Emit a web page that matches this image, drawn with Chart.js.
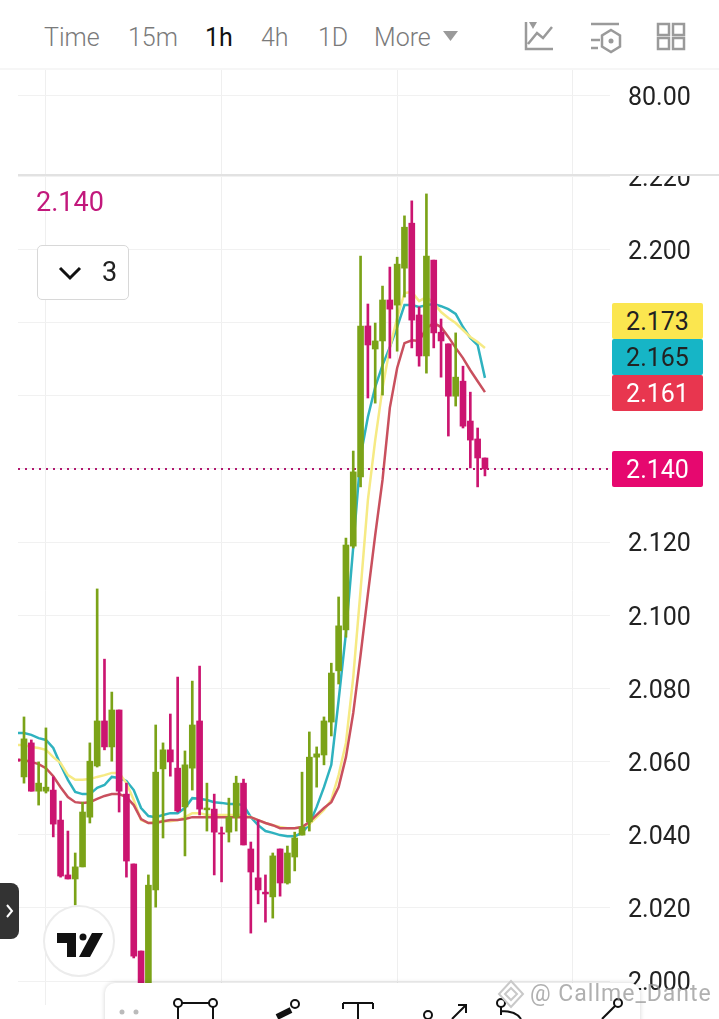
<!DOCTYPE html>
<html>
<head>
<meta charset="utf-8">
<script src="https://cdn.jsdelivr.net/npm/chart.js@4"></script>
<style>
html, body { margin: 0; padding: 0; background: #fff; }
body { width: 719px; height: 1019px; overflow: hidden; position: relative; font-family: Roboto, sans-serif; }
canvas { position: absolute; left: 0; }
#upperPane { top: 70px; }
#mainPane { top: 176px; }
.abs { position: absolute; }
.tab { position: absolute; top: 22px; font-size: 25px; line-height: 32px; color: #7a7a7a; font-weight: 300; }
.tab.on { color: #111; font-weight: 400; }
.badge { position: absolute; left: 612px; width: 91px; height: 36px; line-height: 37px; text-align: center; font-size: 25px; border-radius: 2px; }
</style>
</head>
<body>
<div class="abs" style="left:0;top:68px;width:719px;height:2px;background:#f6f6f6"></div>
<div class="tab" style="left:44px">Time</div>
<div class="tab" style="left:128px">15m</div>
<div class="tab on" style="left:205px">1h</div>
<div class="tab" style="left:261px">4h</div>
<div class="tab" style="left:318px">1D</div>
<div class="tab" style="left:374px">More</div>
<svg class="abs" style="left:0;top:0" width="719" height="68" fill="none" stroke="#9a9a9a" stroke-width="2.5">
  <path d="M443 31h15l-7.5 10z" fill="#9a9a9a" stroke="none"/>
  <path d="M526 22v27h27M528 44l9-11 6 5 9-11"/>
  <path d="M529 22h8l-4 7z" fill="#9a9a9a" stroke="none"/>
  <path d="M591 24h28M591 40h9M591 48h7"/>
  <path d="M611 30l9 5.5v11l-9 5.5-9-5.5v-11z"/>
  <circle cx="611" cy="41" r="2.5" fill="#9a9a9a" stroke="none"/>
  <rect x="658" y="24" width="11" height="11"/><rect x="673" y="24" width="11" height="11"/>
  <rect x="658" y="38" width="11" height="11"/><rect x="673" y="38" width="11" height="11"/>
</svg>

<canvas id="upperPane" width="719" height="106"></canvas>
<canvas id="mainPane" width="719" height="829"></canvas>
<div class="abs" style="left:18px;top:174px;width:701px;height:2px;background:#e2e2e2"></div>

<div class="abs" style="left:36px;top:186px;font-size:27px;line-height:32px;color:#c2187c">2.140</div>
<div class="abs" style="left:37px;top:245px;width:90px;height:53px;border:1px solid #d8d8d8;border-radius:5px;background:#fff"></div>
<svg class="abs" style="left:55px;top:262px" width="32" height="22" fill="none" stroke="#111" stroke-width="3"><path d="M5 6l10 10 10-10"/></svg>
<div class="abs" style="left:102px;top:256px;font-size:27px;line-height:32px;color:#222">3</div>

<div class="badge" style="top:303px;background:#fbe64f;color:#222">2.173</div>
<div class="badge" style="top:339px;background:#16b5c6;color:#222">2.165</div>
<div class="badge" style="top:375px;background:#e8364f;color:#fff">2.161</div>
<div class="badge" style="top:451px;background:#e6086f;color:#fff">2.140</div>

<div class="abs" style="left:0;top:883px;width:19px;height:56px;background:#333;border-radius:0 8px 8px 0"></div>
<svg class="abs" style="left:0;top:883px" width="19" height="56" fill="none" stroke="#fff" stroke-width="2"><path d="M7 22l5 6-5 6"/></svg>
<svg class="abs" style="left:40px;top:902px" width="80" height="80">
  <circle cx="39" cy="39" r="35" fill="#fff" stroke="#ececec" stroke-width="2"/>
  <path d="M17 31h19v24h-9v-14h-10zM52 31h11l-13 24h-11z" fill="#111"/>
  <circle cx="43" cy="35" r="3.5" fill="#111"/>
</svg>

<div class="abs" style="left:105px;top:983px;width:535px;height:50px;background:#fff;border-radius:10px;box-shadow:0 0 5px rgba(0,0,0,.18)"></div>
<svg class="abs" style="left:105px;top:983px" width="535" height="36" fill="none" stroke="#111" stroke-width="2">
  <circle cx="17" cy="29" r="1.5" fill="#bbb" stroke="#bbb"/><circle cx="31" cy="29" r="1.5" fill="#bbb" stroke="#bbb"/>
  <path d="M77 20h27M73 24v12M108 24v12"/>
  <circle cx="73" cy="20" r="4"/><circle cx="108" cy="20" r="4"/>
  <path d="M172 34l14-7" stroke-width="6"/><circle cx="190" cy="21" r="4"/>
  <path d="M238 20h30M253 20v16M238 20v6M268 20v6"/>
  <circle cx="323" cy="32" r="4"/><path d="M347 36l14-14M353 22h8v8"/>
  <circle cx="396" cy="20" r="4"/><path d="M396 24v8M396 28c10 0 17 3 20 8"/>
  <circle cx="513" cy="20" r="4"/><path d="M510 23l-13 13"/>
</svg>
<svg class="abs" style="left:497px;top:979px" width="30" height="32" fill="none" stroke="#c9c9c9" stroke-width="2">
  <path d="M14 2l12 13-12 13-12-13zM14 9l6 6-6 6-6-6z"/>
</svg>
<div class="abs" style="left:530px;top:978px;font-size:23px;line-height:32px;color:rgba(150,150,150,.75);letter-spacing:1px;white-space:nowrap">@ Callme_Dante</div>

<script>
const opens = [2.0607,2.0558,2.0651,2.0519,2.0519,2.0522,2.0440,2.0290,2.0279,2.0312,2.0448,2.0588,2.0711,2.0640,2.0741,2.0511,2.0320,2.0082,1.9960,2.0249,2.0580,2.0632,2.0582,2.0476,2.0582,2.0711,2.0468,2.0470,2.0405,2.0407,2.0448,2.0541,2.0361,2.0282,2.0243,2.0230,2.0361,2.0268,2.0339,2.0399,2.0435,2.0612,2.0618,2.0708,2.0848,2.0960,2.1189,2.1378,2.1791,2.1728,2.1750,2.1862,2.1848,2.1949,2.2072,2.1821,2.1709,2.1971,2.1774,2.1742,2.1599,2.1640,2.1531,2.1482,2.1430];
const highs = [2.0610,2.0722,2.0659,2.0599,2.0692,2.0558,2.0492,2.0410,2.0350,2.0489,2.0651,2.1072,2.0880,2.0790,2.0741,2.0541,2.0320,2.0082,2.0290,2.0700,2.0651,2.0730,2.0831,2.0629,2.0820,2.0861,2.0541,2.0511,2.0421,2.0500,2.0560,2.0552,2.0380,2.0440,2.0290,2.0350,2.0361,2.0369,2.0407,2.0571,2.0681,2.0640,2.0722,2.0869,2.1050,2.1211,2.1449,2.1982,2.1851,2.1799,2.1900,2.1952,2.1979,2.2092,2.2133,2.1843,2.2152,2.1971,2.1810,2.1742,2.1772,2.1681,2.1610,2.1512,2.1430];
const lows = [2.0599,2.0541,2.0519,2.0481,2.0514,2.0394,2.0284,2.0279,2.0208,2.0312,2.0432,2.0585,2.0632,2.0601,2.0462,2.0284,2.0063,1.9970,1.9950,2.0202,2.0391,2.0560,2.0462,2.0342,2.0522,2.0454,2.0410,2.0290,2.0271,2.0380,2.0410,2.0372,2.0131,2.0211,2.0161,2.0172,2.0232,2.0265,2.0301,2.0399,2.0410,2.0530,2.0591,2.0670,2.0812,2.0940,2.1184,2.1351,2.1594,2.1580,2.1602,2.1703,2.1722,2.1870,2.1731,2.1681,2.1662,2.1731,2.1651,2.1490,2.1572,2.1512,2.1403,2.1351,2.1381];
const closes = [2.0601,2.0662,2.0519,2.0541,2.0530,2.0429,2.0287,2.0279,2.0312,2.0462,2.0601,2.0711,2.0640,2.0741,2.0519,2.0328,2.0068,1.9975,2.0262,2.0571,2.0632,2.0599,2.0465,2.0591,2.0700,2.0470,2.0473,2.0407,2.0402,2.0448,2.0541,2.0372,2.0298,2.0249,2.0238,2.0342,2.0268,2.0350,2.0391,2.0421,2.0612,2.0621,2.0711,2.0842,2.0971,2.1192,2.1392,2.1791,2.1739,2.1750,2.1862,2.1837,2.1960,2.2061,2.1807,2.1709,2.1982,2.1772,2.1750,2.1599,2.1651,2.1517,2.1479,2.1430,2.1400];

const maTeal = [2.0678,2.0678,2.0673,2.0664,2.0659,2.0637,2.0591,2.0550,2.0517,2.0511,2.0511,2.0528,2.0536,2.0558,2.0555,2.0547,2.0522,2.0473,2.0451,2.0448,2.0454,2.0459,2.0459,2.0473,2.0500,2.0498,2.0495,2.0489,2.0487,2.0484,2.0484,2.0481,2.0448,2.0426,2.0410,2.0405,2.0399,2.0396,2.0396,2.0405,2.0429,2.0476,2.0530,2.0591,2.0768,2.0951,2.1187,2.1435,2.1542,2.1624,2.1684,2.1733,2.1788,2.1848,2.1848,2.1843,2.1848,2.1851,2.1845,2.1837,2.1824,2.1788,2.1758,2.1739,2.1649];
const maYellow = [2.0645,2.0645,2.0640,2.0637,2.0632,2.0612,2.0596,2.0563,2.0550,2.0550,2.0552,2.0558,2.0563,2.0569,2.0569,2.0541,2.0495,2.0440,2.0432,2.0435,2.0437,2.0437,2.0440,2.0448,2.0459,2.0459,2.0454,2.0454,2.0454,2.0454,2.0454,2.0454,2.0448,2.0440,2.0432,2.0426,2.0421,2.0418,2.0418,2.0421,2.0429,2.0448,2.0468,2.0495,2.0563,2.0651,2.0831,2.1069,2.1315,2.1479,2.1621,2.1731,2.1813,2.1881,2.1884,2.1859,2.1870,2.1854,2.1829,2.1813,2.1799,2.1780,2.1761,2.1747,2.1731];
const maRed = [2.0604,2.0604,2.0599,2.0593,2.0582,2.0560,2.0530,2.0503,2.0489,2.0487,2.0489,2.0498,2.0506,2.0511,2.0511,2.0503,2.0481,2.0443,2.0432,2.0432,2.0437,2.0440,2.0440,2.0443,2.0448,2.0448,2.0448,2.0448,2.0448,2.0448,2.0448,2.0448,2.0448,2.0440,2.0432,2.0426,2.0418,2.0418,2.0418,2.0421,2.0435,2.0454,2.0473,2.0489,2.0530,2.0612,2.0733,2.0891,2.1058,2.1219,2.1370,2.1567,2.1676,2.1744,2.1752,2.1750,2.1785,2.1799,2.1788,2.1761,2.1731,2.1703,2.1670,2.1640,2.1610];

const lastPrice = 2.140;
const priceTicks = [2.000,2.020,2.040,2.060,2.080,2.100,2.120,2.140,2.160,2.180,2.200,2.220];
const upperTicks = [80];
const timeGrid = [4,28,52,76];
const candleIndex = opens.map((v, i) => i);

const upColor = '#7ba318';
const downColor = '#cb1570';
const xMin = 0.18;
const xMax = 81.09;

Chart.defaults.font.family = 'Roboto';
Chart.defaults.animation = false;

function candleColors() {
    return opens.map((o, i) => closes[i] >= o ? upColor : downColor);
}

function timeAxis() {
    return {
        type: 'linear',
        min: xMin,
        max: xMax,
        offset: false,
        afterBuildTicks: axis => { axis.ticks = timeGrid.map(value => ({ value })); },
        afterFit: axis => { axis.height = 0; },
        grid: { color: '#efefef', lineWidth: 1, offset: false, drawTicks: false },
        border: { display: false },
        ticks: { display: false, autoSkip: false }
    };
}

function valueAxis(min, max, tickValues, digits) {
    return {
        position: 'right',
        min: min,
        max: max,
        afterBuildTicks: axis => { axis.ticks = tickValues.map(value => ({ value })); },
        afterFit: axis => {
            axis.width = 109;
            // labels may hang over the pane edges, like the original
            axis.paddingTop = 0;
            axis.paddingBottom = 0;
        },
        grid: { color: '#f1f1f1', lineWidth: 1, drawTicks: false },
        border: { display: false },
        ticks: {
            autoSkip: false,
            padding: 18,
            labelOffset: 3,
            color: '#222',
            font: { size: 25 },
            callback: v => v.toFixed(digits)
        }
    };
}

function maLine(values, color) {
    return {
        type: 'line',
        data: values,
        borderColor: color,
        borderWidth: 2.5,
        pointRadius: 0,
        tension: 0,
        order: 5
    };
}

new Chart(document.getElementById('upperPane'), {
    type: 'line',
    data: { labels: [], datasets: [] },
    options: {
        responsive: false,
        layout: { autoPadding: false, padding: { left: 18 } },
        plugins: { legend: { display: false }, tooltip: { enabled: false } },
        scales: { x: timeAxis(), y: valueAxis(18.46, 100, upperTicks, 2) }
    }
});

new Chart(document.getElementById('mainPane'), {
    type: 'bar',
    data: {
        labels: candleIndex,
        datasets: [
            maLine(maRed, '#c9505e'),
            maLine(maYellow, '#f6ea84'),
            maLine(maTeal, '#2fb2bf'),
            {
                type: 'line',
                data: [{ x: xMin, y: lastPrice }, { x: xMax, y: lastPrice }],
                borderColor: '#b0186f',
                borderWidth: 2,
                borderDash: [2, 5],
                pointRadius: 0,
                order: 4
            },
            {
                data: lows.map((l, i) => [l, highs[i]]),
                backgroundColor: candleColors(),
                barThickness: 2,
                grouped: false,
                order: 2
            },
            {
                data: opens.map((o, i) => [o, closes[i]]),
                backgroundColor: candleColors(),
                barThickness: 6,
                grouped: false,
                order: 1
            }
        ]
    },
    options: {
        responsive: false,
        layout: { autoPadding: false, padding: { left: 18 } },
        plugins: { legend: { display: false }, tooltip: { enabled: false } },
        scales: { x: timeAxis(), y: valueAxis(1.99344, 2.2201, priceTicks, 3) }
    }
});
</script>
</body>
</html>
